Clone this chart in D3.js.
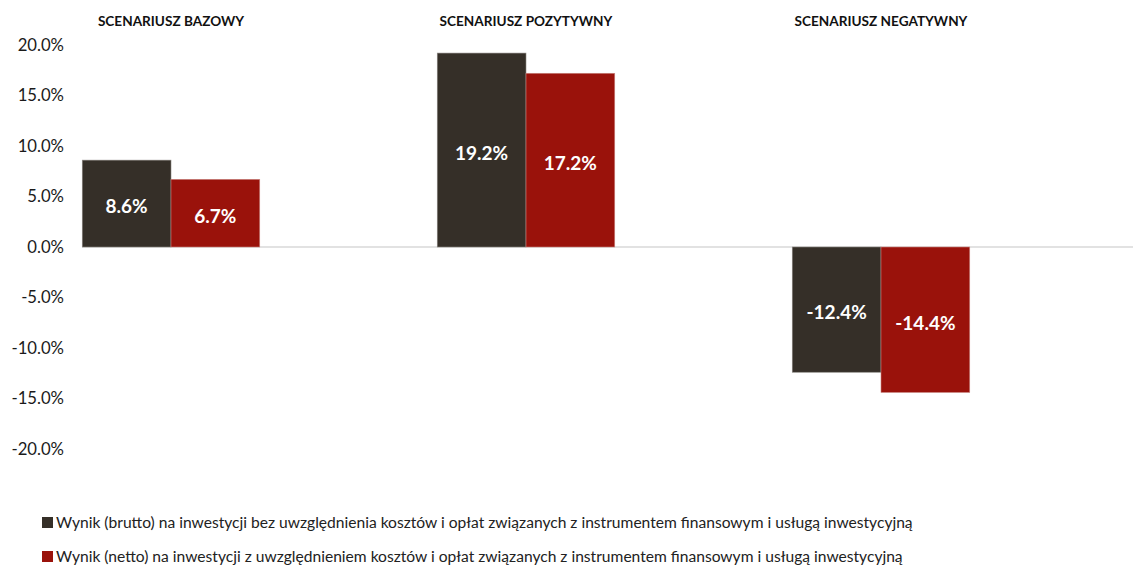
<!DOCTYPE html>
<html lang="pl">
<head>
<meta charset="UTF-8">
<title>Scenariusze</title>
<style>
  body { margin: 0; background: #fff; }
  svg { font-family: Lato, "Open Sans", sans-serif; }
</style>
</head>
<body>
<svg id="chart"></svg>
<script src="https://cdn.jsdelivr.net/npm/d3@7/dist/d3.min.js"></script>
<script>
// data
const categories = ['SCENARIUSZ BAZOWY', 'SCENARIUSZ POZYTYWNY', 'SCENARIUSZ NEGATYWNY'];
const seriesNames = [
  'Wynik (brutto) na inwestycji bez uwzględnienia kosztów i opłat związanych z instrumentem finansowym i usługą inwestycyjną',
  'Wynik (netto) na inwestycji z uwzględnieniem kosztów i opłat związanych z instrumentem finansowym i usługą inwestycyjną'
];
const brutto = [8.6, 19.2, -12.4];
const netto = [6.7, 17.2, -14.4];
const yTicks = [20, 15, 10, 5, 0, -5, -10, -15, -20];
const colors = ['#352f28', '#9a120b'];

const W = 1133, H = 567;
const svg = d3.select('#chart').attr('width', W).attr('height', H);

const y = d3.scaleLinear().domain([-20, 20]).range([449, 45]);
const x = d3.scaleBand().domain(categories).range([-6.5, 1058.5]).paddingInner(0.5).paddingOuter(0.25);
const xs = d3.scaleBand().domain([0, 1]).range([0, x.bandwidth()]);

// y axis labels (no line, no ticks)
svg.append('g')
  .attr('transform', 'translate(64,0)')
  .call(d3.axisLeft(y).tickValues(yTicks).tickSize(0).tickPadding(0).tickFormat(d => d.toFixed(1) + '%'))
  .call(g => g.select('.domain').remove())
  .selectAll('text')
  .attr('font-family', 'Lato, sans-serif')
  .attr('font-size', 16.7)
  .attr('fill', '#1a1a1a');

// zero line
svg.append('line')
  .attr('x1', 82).attr('x2', W)
  .attr('y1', y(0)).attr('y2', y(0))
  .attr('stroke', '#d9d9d9').attr('stroke-width', 1.5);

// category titles at top
svg.append('g').selectAll('text')
  .data(categories).enter()
  .append('text')
  .attr('x', d => x(d) + x.bandwidth() / 2)
  .attr('y', 26)
  .attr('text-anchor', 'middle')
  .attr('font-size', 13.6)
  .attr('font-weight', 'bold')
  .attr('fill', '#111')
  .text(d => d);

// bars
const rows = [];
categories.forEach((c, i) => {
  rows.push({cat: c, s: 0, v: brutto[i]});
  rows.push({cat: c, s: 1, v: netto[i]});
});

svg.append('g').selectAll('rect')
  .data(rows).enter()
  .append('rect')
  .attr('x', d => x(d.cat) + xs(d.s))
  .attr('width', xs.bandwidth())
  .attr('y', d => y(Math.max(0, d.v)))
  .attr('height', d => Math.abs(y(d.v) - y(0)))
  .attr('fill', d => colors[d.s])
  .attr('stroke', d => d.s ? '#c98580' : '#8a8580')
  .attr('stroke-width', 0.6);

svg.append('g').selectAll('text')
  .data(rows).enter()
  .append('text')
  .attr('x', d => x(d.cat) + xs(d.s) + xs.bandwidth() / 2)
  .attr('y', d => (y(d.v) + y(0)) / 2 + 3)
  .attr('dy', '0.36em')
  .attr('text-anchor', 'middle')
  .attr('font-size', 19)
  .attr('font-weight', 'bold')
  .attr('fill', '#fff')
  .text(d => d.v.toFixed(1) + '%');

// legend
const legend = svg.append('g').selectAll('g')
  .data(seriesNames).enter()
  .append('g')
  .attr('transform', (d, i) => `translate(42, ${523 + i * 34})`);

legend.append('rect')
  .attr('x', 0).attr('y', -6)
  .attr('width', 11).attr('height', 11)
  .attr('fill', (d, i) => colors[i]);

legend.append('text')
  .attr('x', 14)
  .attr('y', 0)
  .attr('dy', '0.35em')
  .attr('font-size', 15.6)
  .attr('fill', '#222')
  .text(d => d);
</script>
</body>
</html>
